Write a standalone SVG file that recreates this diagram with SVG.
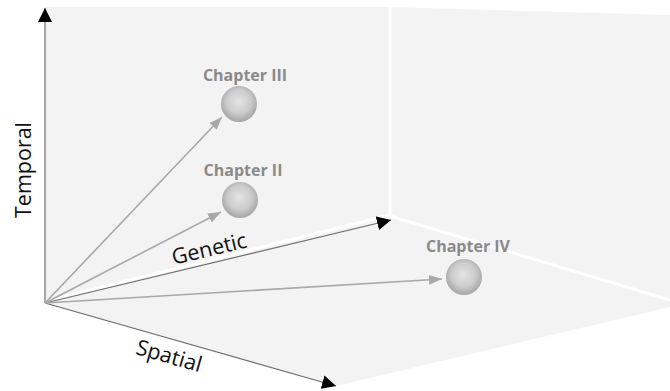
<svg xmlns="http://www.w3.org/2000/svg" width="670" height="391" viewBox="0 0 670 391">
  <defs>
    <style>
      .axis { stroke: #6e6e6e; stroke-width: 1.2; fill: none; }
      .ray { stroke: #a8a8a8; stroke-width: 1.6; fill: none; }
      .seam { stroke: #ffffff; stroke-width: 3; fill: none; }
      .label { font-family: "Open Sans", "Liberation Sans", sans-serif; font-weight: bold; font-size: 16px; fill: #8a8a8a; text-anchor: middle; }
      .axislabel { font-family: "Open Sans", "Liberation Sans", sans-serif; font-size: 21.5px; fill: #111111; text-anchor: middle; }
      .ball { fill: url(#ballShade); }
    </style>
    <radialGradient id="ballShade" cx="0.5" cy="0.45" r="0.55" fx="0.48" fy="0.42">
      <stop offset="0" stop-color="#e4e4e4"/>
      <stop offset="0.6" stop-color="#cccccc"/>
      <stop offset="1" stop-color="#a4a4a4"/>
    </radialGradient>
    <marker id="headBlack" viewBox="0 0 14 14" refX="14" refY="7" markerWidth="14" markerHeight="14" markerUnits="userSpaceOnUse" orient="auto">
      <path d="M0,0 L14,7 L0,14 z" fill="#000000"/>
    </marker>
    <marker id="headGray" viewBox="0 0 13 10" refX="13" refY="5" markerWidth="13" markerHeight="10" markerUnits="userSpaceOnUse" orient="auto">
      <path d="M0,0 L13,5 L0,10 z" fill="#a8a8a8"/>
    </marker>
  </defs>

  <!-- room: back wall, side wall and floor -->
  <g id="room">
    <polygon points="45,7 388,7 670,15 670,307 336,386 45,303" fill="#f3f3f3"/>
    <line class="seam" x1="390" y1="7" x2="390" y2="217"/>
    <line class="seam" x1="390" y1="216" x2="670" y2="300"/>
    <line class="seam" x1="46" y1="301" x2="390" y2="215"/>
  </g>

  <!-- axes and rays -->
  <g id="connectors">
    <line class="axis" x1="45" y1="303" x2="45" y2="8" marker-end="url(#headBlack)"/>
    <line class="axis" x1="45" y1="303" x2="391" y2="220" marker-end="url(#headBlack)"/>
    <line class="axis" x1="45" y1="303" x2="336" y2="386" marker-end="url(#headBlack)"/>
    <line class="ray" x1="45" y1="303" x2="222" y2="117" marker-end="url(#headGray)"/>
    <line class="ray" x1="45" y1="303" x2="221" y2="212" marker-end="url(#headGray)"/>
    <line class="ray" x1="45" y1="303" x2="442" y2="279" marker-end="url(#headGray)"/>
  </g>

  <!-- axis labels -->
  <g id="axis-labels">
    <text class="axislabel" transform="translate(31,170) rotate(-90)">Temporal</text>
    <text class="axislabel" transform="translate(211,256) rotate(-13.4)">Genetic</text>
    <text class="axislabel" transform="translate(167,363) rotate(16)">Spatial</text>
  </g>

  <g id="chapter-iii">
    <circle class="ball" cx="239" cy="104" r="18"/>
    <text class="label" x="245" y="81">Chapter III</text>
  </g>

  <g id="chapter-ii">
    <circle class="ball" cx="240" cy="200" r="18"/>
    <text class="label" x="243" y="176">Chapter II</text>
  </g>

  <g id="chapter-iv">
    <circle class="ball" cx="464" cy="277" r="18"/>
    <text class="label" x="468" y="252">Chapter IV</text>
  </g>
</svg>
